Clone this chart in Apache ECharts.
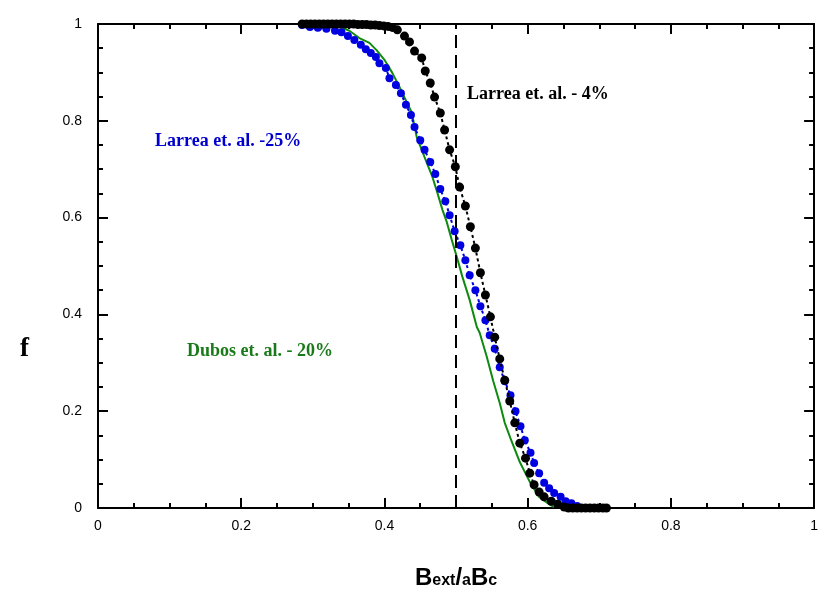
<!DOCTYPE html>
<html>
<head>
<meta charset="utf-8">
<script src="https://cdn.jsdelivr.net/npm/echarts@6/dist/echarts.min.js"></script>
<style>
  html, body { margin: 0; padding: 0; background: #fff; }
  #chart { width: 821px; height: 595px; }
</style>
</head>
<body>
<div id="chart"></div>
<script>
// Larrea et al. - 4% (black dots)
const larrea4X = [0.285,0.291,0.297,0.303,0.309,0.315,0.321,0.327,0.333,0.339,0.345,0.351,0.357,0.363,0.369,0.375,0.381,0.387,0.393,0.399,0.405,0.411,
  0.418,0.428,0.435,0.442,0.452,0.457,0.464,0.470,0.478,0.484,0.491,0.499,0.505,0.513,0.520,0.527,0.534,0.541,0.548,0.554,0.561,0.568,0.575,0.582,0.589,
  0.597,0.603,0.609,0.616,0.623,0.633,0.642,0.651,0.657,0.663,0.669,0.675,0.681,0.687,0.693,0.699,0.705,0.710];
const larrea4F = [1.0,1.0,1.0,1.0,1.0,1.0,1.0,1.0,1.0,1.0,1.0,1.0,1.0,0.999,0.999,0.999,0.998,0.998,0.997,0.996,0.995,0.993,
  0.988,0.975,0.963,0.944,0.930,0.903,0.878,0.849,0.816,0.781,0.740,0.705,0.663,0.624,0.581,0.537,0.486,0.440,0.395,0.353,0.308,0.264,0.221,0.176,0.134,
  0.103,0.072,0.048,0.033,0.023,0.014,0.008,0.002,0.0,0.0,0.0,0.0,0.0,0.0,0.0,0.0,0.0,0.0];

// Larrea et al. -25% (blue dots)
const larrea25X = [0.285,0.296,0.307,0.319,0.331,0.340,0.349,0.358,0.367,0.374,0.381,0.388,0.393,0.402,0.407,0.416,0.423,0.430,0.437,0.442,
  0.450,0.456,0.464,0.471,0.478,0.485,0.491,0.498,0.506,0.513,0.519,0.527,0.534,0.541,0.547,0.554,0.561,0.568,0.576,0.583,0.590,
  0.596,0.604,0.609,0.616,0.623,0.630,0.637,0.646,0.653,0.661,0.669,0.678];
const larrea25F = [0.998,0.994,0.992,0.990,0.986,0.983,0.975,0.967,0.957,0.948,0.940,0.932,0.919,0.909,0.888,0.874,0.857,0.833,0.812,0.787,
  0.760,0.740,0.715,0.690,0.659,0.634,0.605,0.572,0.543,0.512,0.481,0.450,0.417,0.388,0.357,0.329,0.291,0.262,0.233,0.200,0.169,
  0.140,0.114,0.093,0.072,0.052,0.041,0.031,0.023,0.014,0.010,0.004,0.0];

// Dubos et al. - 20% (green line)
const dubosX = [0.338,0.351,0.365,0.379,0.389,0.400,0.411,0.421,0.431,0.438,0.445,0.456,0.467,0.474,0.481,0.487,0.494,0.501,0.509,0.519,
  0.529,0.533,0.543,0.552,0.561,0.568,0.577,0.589,0.603,0.616,0.630,0.637];
const dubosF = [0.994,0.986,0.971,0.961,0.946,0.926,0.899,0.870,0.839,0.818,0.767,0.725,0.684,0.651,0.616,0.591,0.554,0.519,0.477,0.430,
  0.374,0.362,0.312,0.262,0.217,0.176,0.140,0.095,0.054,0.023,0.008,0.002];

// Reference position of the vertical dashed marker
const markerX = 0.5;

const xTicks = [0, 0.2, 0.4, 0.6, 0.8, 1];
const yTicks = [0, 0.2, 0.4, 0.6, 0.8, 1];

const zip = (xs, ys) => xs.map((x, i) => [x, ys[i]]);

const axisCommon = {
  type: 'value', min: 0, max: 1, interval: 0.2,
  axisLine: { show: true, onZero: false, lineStyle: { color: '#000', width: 2 } },
  axisTick: { show: true, inside: true, length: 10, lineStyle: { color: '#000', width: 2 } },
  minorTick: { show: true, splitNumber: 4, length: 5, lineStyle: { color: '#000', width: 2 } },
  splitLine: { show: false },
  minorSplitLine: { show: false }
};
const labelFmt = v => (xTicks.includes(v) || yTicks.includes(v)) ? String(v) : '';
const tickFont = 'Liberation Sans, Arial, sans-serif';
const noteFont = 'bold 18px "Liberation Serif", "Times New Roman", serif';

const chart = echarts.init(document.getElementById('chart'), null, { renderer: 'canvas' });
chart.setOption({
  backgroundColor: '#fff',
  animation: false,
  grid: { left: 98, right: 5, top: 24, bottom: 87 },
  xAxis: [
    Object.assign({}, axisCommon, {
      position: 'bottom',
      axisLabel: { margin: 11, color: '#000', fontSize: 14, fontFamily: tickFont, formatter: labelFmt },
      name: '{b|B}{s|ext}{b|/}{s|a}{b|B}{s|c}',
      nameLocation: 'middle',
      nameGap: 58,
      nameTextStyle: {
        rich: {
          b: { fontSize: 24, fontWeight: 'bold', fontFamily: tickFont, color: '#000', padding: [0, 0, 6, 0] },
          s: { fontSize: 16, fontWeight: 'bold', fontFamily: tickFont, color: '#000' }
        }
      }
    }),
    Object.assign({}, axisCommon, { position: 'top', axisLabel: { show: false } })
  ],
  yAxis: [
    Object.assign({}, axisCommon, {
      position: 'left',
      axisLabel: { margin: 16, color: '#000', fontSize: 14, fontFamily: tickFont, formatter: labelFmt }
    }),
    Object.assign({}, axisCommon, { position: 'right', axisLabel: { show: false } })
  ],
  graphic: [
    { type: 'text', left: 20, top: 336, style: { text: 'f', font: 'bold 27px "Liberation Serif", "Times New Roman", serif', fill: '#000' } },
    { type: 'text', left: 467, top: 85, style: { text: 'Larrea et. al. - 4%', font: noteFont, fill: '#000' } },
    { type: 'text', left: 155, top: 132, style: { text: 'Larrea et. al. -25%', font: noteFont, fill: '#0000cc' } },
    { type: 'text', left: 187, top: 342, style: { text: 'Dubos et. al. - 20%', font: noteFont, fill: '#1a7a1a' } }
  ],
  series: [
    {
      name: 'Dubos et. al. - 20%', type: 'line', data: zip(dubosX, dubosF),
      showSymbol: false, symbol: 'none',
      lineStyle: { color: '#0e8a0e', width: 2 },
      markLine: {
        silent: true, symbol: 'none', label: { show: false },
        lineStyle: { color: '#000', width: 2, type: [13, 7] },
        data: [{ xAxis: markerX }]
      },
      z: 2
    },
    {
      name: 'Larrea et. al. -25%', type: 'line', data: zip(larrea25X, larrea25F),
      symbol: 'circle', symbolSize: 8, showAllSymbol: true,
      itemStyle: { color: '#0000e0' },
      lineStyle: { color: '#0000e0', width: 2, type: [3, 3] },
      z: 3
    },
    {
      name: 'Larrea et. al. - 4%', type: 'line', data: zip(larrea4X, larrea4F),
      symbol: 'circle', symbolSize: 9, showAllSymbol: true,
      itemStyle: { color: '#000' },
      lineStyle: { color: '#000', width: 2, type: [3, 3] },
      z: 4
    }
  ]
});
</script>
</body>
</html>
